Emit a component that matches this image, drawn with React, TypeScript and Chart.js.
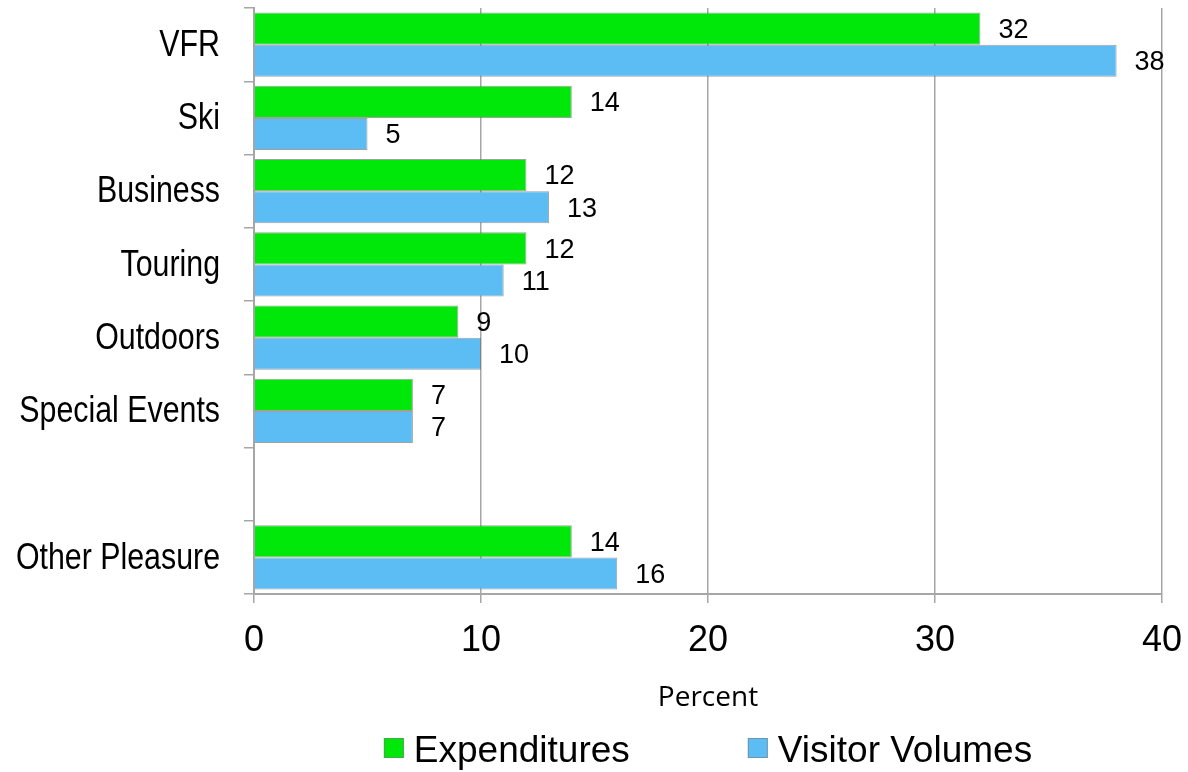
import React, { useEffect, useRef } from 'react';
import { Chart, registerables } from 'chart.js';

Chart.register(...registerables);

const categories = ['VFR', 'Ski', 'Business', 'Touring', 'Outdoors', 'Special Events', '', 'Other Pleasure'];
const expenditures = [32, 14, 12, 12, 9, 7, null, 14];
const visitorVolumes = [38, 5, 13, 11, 10, 7, null, 16];
const seriesNames = ['Expenditures', 'Visitor Volumes'];
const xMin = 0;
const xMax = 40;
const xStep = 10;
const xTitle = 'Percent';

const GREEN = '#00e80a';
const BLUE = '#5cbdf5';
const GRID = '#a6a6a6';
const SANS = '"Liberation Sans", Arial, sans-serif';

// Category labels drawn in a condensed (Arial-Narrow-like) style
const categoryLabels = {
  id: 'categoryLabels',
  afterDraw(chart: any) {
    const ctx = chart.ctx;
    const yScale = chart.scales.y;
    const sx = 0.82;
    const right = yScale.right - 10 - 24;
    ctx.save();
    ctx.font = '37px ' + SANS;
    ctx.fillStyle = '#000';
    ctx.textAlign = 'right';
    ctx.textBaseline = 'middle';
    ctx.scale(sx, 1);
    chart.data.labels.forEach((lab: string, i: number) => {
      if (!lab) return;
      const y = yScale.getPixelForTick(i);
      ctx.fillText(lab, right / sx, y + 1);
    });
    ctx.restore();
  },
};

const valueLabels = {
  id: 'valueLabels',
  afterDatasetsDraw(chart: any) {
    const ctx = chart.ctx;
    ctx.save();
    ctx.font = '27px ' + SANS;
    ctx.fillStyle = '#000';
    ctx.textAlign = 'left';
    ctx.textBaseline = 'middle';
    chart.data.datasets.forEach((ds: any, i: number) => {
      const meta = chart.getDatasetMeta(i);
      meta.data.forEach((el: any, j: number) => {
        const v = ds.data[j];
        if (v === null || v === undefined) return;
        ctx.fillText(String(v), el.x + 18, el.y + 2);
      });
    });
    ctx.restore();
  },
};

const customLegend = {
  id: 'customLegend',
  afterDraw(chart: any) {
    const ctx = chart.ctx;
    const ca = chart.chartArea;
    ctx.save();
    ctx.font = '37px ' + SANS;
    const box = 20;
    const gapText = 10;
    const gapItem = 118;
    const items = chart.data.datasets.map((ds: any) => ({
      label: ds.label,
      color: ds.backgroundColor,
      w: box + gapText + ctx.measureText(ds.label).width,
    }));
    const total = items.reduce((s: number, it: any) => s + it.w, 0) + gapItem * (items.length - 1);
    let x = (ca.left + ca.right) / 2 - total / 2;
    const cy = chart.height - 24;
    items.forEach((it: any) => {
      ctx.fillStyle = it.color;
      ctx.fillRect(x, cy - box / 2, box, box);
      ctx.strokeStyle = 'rgba(120,120,120,0.6)';
      ctx.lineWidth = 1;
      ctx.strokeRect(x + 0.5, cy - box / 2 + 0.5, box - 1, box - 1);
      ctx.fillStyle = '#000';
      ctx.textAlign = 'left';
      ctx.textBaseline = 'middle';
      ctx.fillText(it.label, x + box + gapText, cy + 4);
      x += it.w + gapItem;
    });
    ctx.restore();
  },
};

export default function App() {
  const ref = useRef<HTMLCanvasElement | null>(null);

  useEffect(() => {
    if (!ref.current) return;
    const chart = new Chart(ref.current, {
      type: 'bar',
      data: {
        labels: categories,
        datasets: [
          {
            label: seriesNames[0],
            data: expenditures,
            backgroundColor: GREEN,
            borderColor: 'rgba(110,110,110,0.65)',
            borderWidth: 1,
            borderSkipped: 'start',
            categoryPercentage: 0.88,
            barPercentage: 1,
          },
          {
            label: seriesNames[1],
            data: visitorVolumes,
            backgroundColor: BLUE,
            borderColor: 'rgba(110,110,110,0.65)',
            borderWidth: 1,
            borderSkipped: 'start',
            categoryPercentage: 0.88,
            barPercentage: 1,
          },
        ],
      },
      options: {
        indexAxis: 'y',
        animation: false,
        responsive: false,
        maintainAspectRatio: false,
        layout: { padding: { top: 8, right: 26, bottom: 51, left: 0 } },
        plugins: {
          legend: { display: false },
          tooltip: { enabled: false },
        },
        scales: {
          x: {
            min: xMin,
            max: xMax,
            ticks: {
              stepSize: xStep,
              font: { family: SANS, size: 36 },
              color: '#000',
              padding: 16,
              maxRotation: 0,
            },
            grid: {
              color: GRID,
              lineWidth: 1.5,
              tickLength: 9,
              drawTicks: true,
            },
            border: { display: true, color: GRID, width: 2 },
            title: {
              display: true,
              text: xTitle,
              font: { family: '"Open Sans", sans-serif', size: 28 },
              color: '#000',
              padding: { top: 6, bottom: 6 },
            },
            afterFit: (s: any) => {
              s.height = 127;
              s.paddingRight = 0;
              s.paddingLeft = 0;
            },
          },
          y: {
            ticks: {
              display: false,
            },
            grid: {
              display: true,
              drawOnChartArea: false,
              drawTicks: true,
              tickLength: 10,
              color: GRID,
              lineWidth: 1.5,
              offset: true,
            },
            border: { display: true, color: GRID, width: 2 },
            afterFit: (s: any) => {
              s.width = 254;
            },
          },
        },
      },
      plugins: [valueLabels, categoryLabels, customLegend],
    });
    return () => chart.destroy();
  }, []);

  return (
    <div style={{ position: 'absolute', left: 0, top: 0, width: 1188, height: 772, background: '#fff' }}>
      <canvas ref={ref} width={1188} height={772} style={{ width: 1188, height: 772 }} />
    </div>
  );
}
